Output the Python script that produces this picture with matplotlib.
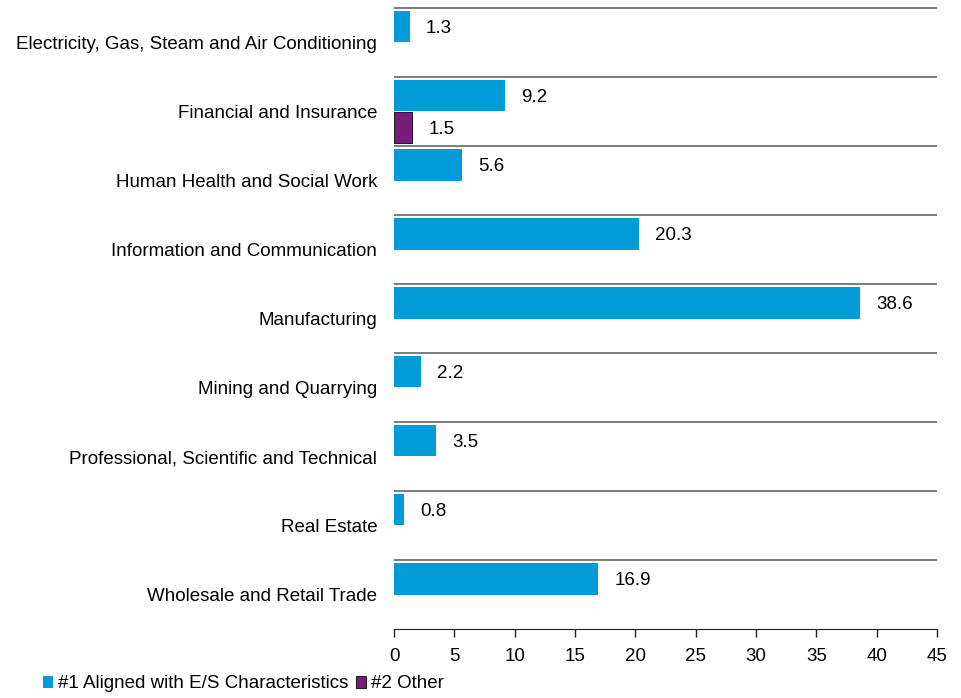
import matplotlib.pyplot as plt
import numpy as np

plt.rcParams['font.family'] = ['Liberation Sans', 'DejaVu Sans']

# data
sectors = [
    'Electricity, Gas, Steam and Air Conditioning',
    'Financial and Insurance',
    'Human Health and Social Work',
    'Information and Communication',
    'Manufacturing',
    'Mining and Quarrying',
    'Professional, Scientific and Technical',
    'Real Estate',
    'Wholesale and Retail Trade',
]
aligned = [1.3, 9.2, 5.6, 20.3, 38.6, 2.2, 3.5, 0.8, 16.9]
other = [None, 1.5, None, None, None, None, None, None, None]
series_names = ['#1 Aligned with E/S Characteristics', '#2 Other']

blue = '#009cda'
purple = '#7a1a7c'
fs = 13.5

fig = plt.figure(figsize=(9.62, 6.98), dpi=100)
ax = fig.add_axes([394 / 962, 1 - 629 / 698, (937 - 394) / 962, (629 - 8) / 698])

y = np.arange(len(sectors))
h = 0.46
ax.barh(y - 0.23, aligned, height=h, color=blue, label=series_names[0])
oth_y = [i + 0.23 for i, v in enumerate(other) if v is not None]
oth_v = [v for v in other if v is not None]
ax.barh(oth_y, oth_v, height=h, color=purple, edgecolor='#222222', linewidth=0.8,
        label=series_names[1])

# value labels
for i, v in enumerate(aligned):
    ax.text(v + 1.35, i - 0.23, f'{v:.1f}', va='center_baseline', ha='left', fontsize=fs)
for yy, v in zip(oth_y, oth_v):
    ax.text(v + 1.35, yy, f'{v:.1f}', va='center_baseline', ha='left', fontsize=fs)

# separator lines at top of each band
ax.hlines(y - 0.5, 0, 45, color='#666666', linewidth=1.2, clip_on=False)

ax.set_xlim(0, 45)
ax.set_ylim(len(sectors) - 0.5, -0.5)
ax.set_xticks(np.arange(0, 46, 5))
ax.set_yticks(y)
ax.set_yticklabels(sectors, fontsize=fs)
ax.tick_params(axis='y', length=0, pad=12)
ax.tick_params(axis='x', length=6, width=1, labelsize=fs, pad=8, color='#222222')
for s in ['top', 'left', 'right']:
    ax.spines[s].set_visible(False)
ax.spines['bottom'].set_color('#222222')

handles, labels = ax.get_legend_handles_labels()
fig.legend(handles, labels, loc='center left', bbox_to_anchor=(43 / 962, 1 - 684 / 698),
           frameon=False, fontsize=fs, handlelength=0.55, handleheight=0.55,
           handletextpad=0.25, columnspacing=0.4, ncol=2, borderpad=0, borderaxespad=0)

fig.savefig('out.png', dpi=100)
